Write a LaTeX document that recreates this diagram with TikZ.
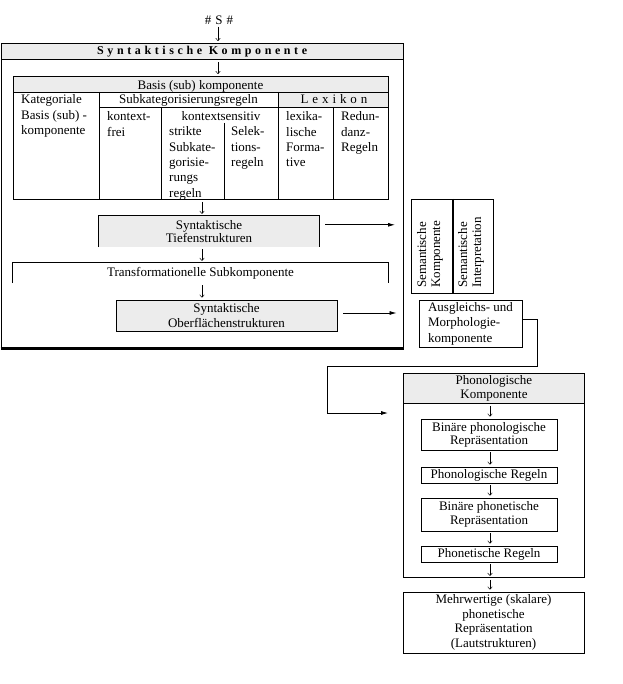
\documentclass[tikz,border=0pt]{standalone}
\usepackage{fontspec}
\setmainfont{Liberation Serif}
\usetikzlibrary{arrows.meta}
\definecolor{hdr}{RGB}{236,236,236}
\begin{document}
\begin{tikzpicture}[x=1pt,y=-1pt,
  every node/.style={font=\fontsize{13}{15.3}\selectfont, inner sep=0pt},
  ln/.style={line width=0.9pt},
  dn/.style={-{To[length=3pt,width=5pt]}, line width=0.5pt, shorten <=2pt, shorten >=2pt},
  rt/.style={-{Latex[length=7pt,width=4pt]}, line width=0.8pt},
  bx/.style={draw, line width=0.9pt, align=center},
  cell/.style={anchor=base west, align=left},
  tight/.style={font=\fontsize{13}{14}\selectfont},
]
\useasboundingbox (0,0) rectangle (622,684);
\coordinate (ax) at (202,0);
\coordinate (sx) at (218,0);
\coordinate (px) at (490,0);

% ---------- Syntaktische Komponente ----------
\node[draw, line width=1.2pt, minimum width=402pt, minimum height=304pt, anchor=north west] (syn) at (0.6,43) {};
\draw[line width=2.6pt] (syn.south west) -- (syn.south east);
\node[bx, fill=hdr, line width=1.2pt, minimum width=402pt, minimum height=16pt, anchor=north west,
      font=\fontsize{12}{13}\selectfont\bfseries\addfontfeature{LetterSpace=30}] (synhdr) at (0.6,43) {Syntaktische Komponente};
\node (S) at (219,20) {\addfontfeature{LetterSpace=30}\#S\#};
\draw[dn] (S.south -| sx) -- (sx |- synhdr.north);

% ---------- Basis table ----------
\fill[hdr] (13,76) rectangle (388,92);
\fill[hdr] (278,92) rectangle (388,107);
\node[draw, line width=0.9pt, minimum width=375pt, minimum height=123pt, anchor=north west] (tab) at (13,76) {};
\draw[ln] (13,92) -- (388,92);
\draw[ln] (99,107) -- (388,107);
\draw[ln] (99,92) -- (99,199);
\draw[ln] (161.5,107) -- (161.5,199);
\draw[ln] (224,123) -- (224,199);
\draw[ln] (278,92) -- (278,199);
\draw[ln] (333,107) -- (333,199);
\draw[dn] (sx |- synhdr.south) -- (sx |- tab.north);

% multi-line cells: base anchor = baseline of the last line
\node[anchor=base] (basis) at (200.5,90) {Basis (sub) komponente};
\node[cell] (kat) at (21,134.6) {Kategoriale\\Basis (sub) -\\komponente};
\node[anchor=base] (subk) at (188.5,104) {Subkategorisierungsregeln};
\node[anchor=base, font=\fontsize{13}{15}\selectfont\addfontfeature{LetterSpace=30}] (lex) at (334,104) {Lexikon};
\node[cell] (kf) at (107,136.3) {kontext-\\frei};
\node[anchor=base] (ks) at (221,121) {kontextsensitiv};
\node[cell] (str) at (169,197.2) {strikte\\Subkate-\\gorisie-\\rungs\\regeln};
\node[cell] (sel) at (231,166.6) {Selek-\\tions-\\regeln};
\node[cell] (lexf) at (286,166.9) {lexika-\\lische\\Forma-\\tive};
\node[cell] (red) at (341,151.6) {Redun-\\danz-\\Regeln};

% ---------- Tiefenstrukturen ----------
\node[fill=hdr, minimum width=220pt, minimum height=31pt, align=center, font=\fontsize{13}{13.5}\selectfont] (tief) at (209,231.5) {Syntaktische\\Tiefenstrukturen};
\draw[ln] (tief.south west) -- (tief.north west) -- (tief.north east) -- (tief.south east);
\draw[dn] (ax |- tab.south) -- (ax |- tief.north);

% ---------- Transformationelle Subkomponente ----------
\node[minimum width=375pt, minimum height=20pt] (trans) at (200.5,273) {Transformationelle Subkomponente};
\draw[ln] (trans.south west) -- (trans.north west) -- (trans.north east) -- (trans.south east);
\draw[dn] (ax |- tief.south) -- (ax |- trans.north);

% ---------- Oberflaechenstrukturen ----------
\node[bx, fill=hdr, minimum width=221pt, minimum height=31pt, font=\fontsize{13}{15.5}\selectfont] (ober) at (226.5,315.5) {Syntaktische\\Oberflächenstrukturen};
\draw[dn] (ax |- trans.south) -- (ax |- ober.north);

% ---------- Semantische Komponente ----------
\node[draw, line width=0.9pt, minimum width=41pt, minimum height=94pt, anchor=north west] (sem1) at (411,199) {};
\node[draw, line width=0.9pt, minimum width=41pt, minimum height=94pt, anchor=north west] (sem2) at (452,199) {};
\draw[line width=1.6pt] (sem1.north east) -- (sem1.south east);
\node[rotate=90, anchor=north west, align=left, tight] (semk) at (417,288) {Semantische\\Komponente};
\node[rotate=90, anchor=north west, align=left, tight] (semi) at (458,288) {Semantische\\Interpretation};
\coordinate (t1) at ([xshift=6pt,yshift=-9pt]tief.north east);
\draw[rt, shorten >=16pt] (t1) -- (t1 -| sem1.west);

% ---------- Ausgleichs- und Morphologiekomponente ----------
\node[bx, align=left, minimum width=103pt, minimum height=47pt, font=\fontsize{13}{15.5}\selectfont] (aus) at (470.5,323.5) {Ausgleichs- und\\Morphologie-\\komponente};
\coordinate (t2) at ([xshift=6pt,yshift=2.5pt]ober.east);
\draw[rt, shorten >=22pt] (t2) -- (t2 -| aus.west);

% ---------- Phonologische Komponente ----------
\node[draw, line width=0.9pt, minimum width=181pt, minimum height=204pt, anchor=north west] (phon) at (403,373) {};
\node[bx, fill=hdr, minimum width=181pt, minimum height=30pt, anchor=north west, tight] (phh) at (403,373) {Phonologische\\Komponente};
\coordinate (c1) at ([yshift=4.5pt]aus.east);
\coordinate (p1) at (327,413);
\draw[rt, shorten >=15pt] (c1) -| (537,366) -| (p1) -- (p1 -| phon.west);

\node[bx, minimum width=136pt, minimum height=31pt, font=\fontsize{13}{13}\selectfont] (b1) at (489,434.5) {Binäre phonologische\\Repräsentation};
\node[bx, minimum width=136pt, minimum height=16pt] (r1) at (489,475) {Phonologische Regeln};
\node[bx, minimum width=136pt, minimum height=33pt, font=\fontsize{13}{14}\selectfont] (b2) at (489,514.5) {Binäre phonetische\\Repräsentation};
\node[bx, minimum width=136pt, minimum height=16pt] (r2) at (489,554) {Phonetische Regeln};
\node[bx, minimum width=181pt, minimum height=61pt, font=\fontsize{13}{14.5}\selectfont] (mw) at (493.5,622.5) {Mehrwertige (skalare)\\phonetische\\Repräsentation\\(Lautstrukturen)};

\draw[dn] (px |- phh.south) -- (px |- b1.north);
\draw[dn] (px |- b1.south) -- (px |- r1.north);
\draw[dn] (px |- r1.south) -- (px |- b2.north);
\draw[dn] (px |- b2.south) -- (px |- r2.north);
\draw[dn] (px |- r2.south) -- (px |- phon.south);
\draw[dn] (px |- phon.south) -- (px |- mw.north);
\end{tikzpicture}
\end{document}
